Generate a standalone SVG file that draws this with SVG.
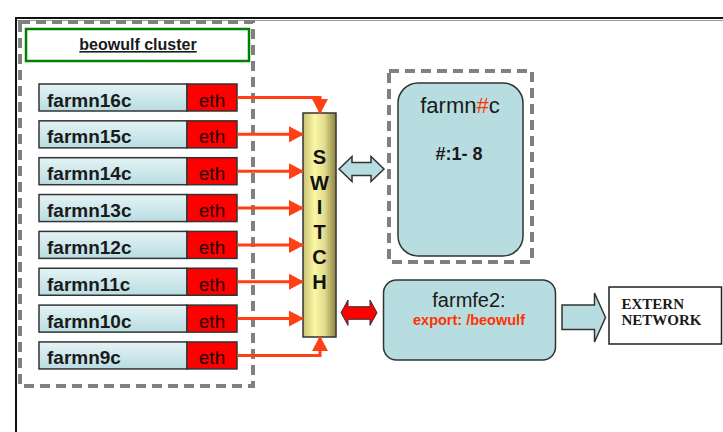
<svg xmlns="http://www.w3.org/2000/svg" width="723" height="432" viewBox="0 0 723 432">
<defs>
<linearGradient id="nodeg" x1="0" y1="0" x2="0" y2="1">
<stop offset="0" stop-color="#e4f3f5"/><stop offset="1" stop-color="#b9dde2"/>
</linearGradient>
<linearGradient id="swg" x1="0" y1="0" x2="1" y2="0">
<stop offset="0" stop-color="#c9c274"/><stop offset="0.35" stop-color="#f9f7a4"/><stop offset="0.65" stop-color="#e3dc8e"/><stop offset="1" stop-color="#8b8240"/>
</linearGradient>
<marker id="ah" viewBox="0 0 15 16" refX="14" refY="8" markerWidth="15" markerHeight="16" markerUnits="userSpaceOnUse" orient="auto">
<path d="M0,0 L15,8 L0,16 Z" fill="#ff3f14"/>
</marker>
<style>
.node{fill:url(#nodeg);stroke:#333;stroke-width:1.5}
.eth{fill:#ff0000;stroke:#333;stroke-width:1.5}
.nt{font-family:"Liberation Sans",Arial,sans-serif;font-weight:bold;font-size:19px;fill:#1a1a1a}
.et{font-family:"Liberation Sans",Arial,sans-serif;font-size:19px;fill:#2a0000;text-anchor:middle}
.dash{fill:none;stroke:#808080;stroke-width:4;stroke-dasharray:10 6}
.wire{fill:none;stroke:#ff3f14;stroke-width:3;marker-end:url(#ah)}
.blue{fill:#b8dde0;stroke:#333;stroke-width:1.5}
.sw{font-family:"Liberation Sans",Arial,sans-serif;font-weight:bold;font-size:20px;fill:#111;text-anchor:middle}
</style>
</defs>
<rect width="723" height="432" fill="#fff"/>
<g id="frame">
<line x1="16" y1="18" x2="723" y2="18" stroke="#111" stroke-width="2"/>
<line x1="16" y1="20.5" x2="723" y2="20.5" stroke="#999" stroke-width="1"/>
<line x1="16" y1="17" x2="16" y2="432" stroke="#111" stroke-width="2"/>
</g>
<g id="cluster">
<rect class="dash" x="20" y="22" width="233" height="364"/>
<rect x="26" y="29" width="223" height="32" fill="#fff" stroke="#008000" stroke-width="2.5"/>
<text x="138" y="50" font-family="Liberation Sans,Arial,sans-serif" font-weight="bold" font-size="16" fill="#1a1a1a" text-anchor="middle" text-decoration="underline">beowulf cluster</text>
</g>
<g id="farmn16c"><rect class="node" x="39" y="84" width="148" height="27"/><rect class="eth" x="187" y="84" width="50" height="27"/><text class="nt" x="47" y="106.5">farmn16c</text><text class="et" x="212" y="106.5">eth</text></g>
<g id="farmn15c"><rect class="node" x="39" y="120.85" width="148" height="27"/><rect class="eth" x="187" y="120.85" width="50" height="27"/><text class="nt" x="47" y="143.35">farmn15c</text><text class="et" x="212" y="143.35">eth</text></g>
<g id="farmn14c"><rect class="node" x="39" y="157.7" width="148" height="27"/><rect class="eth" x="187" y="157.7" width="50" height="27"/><text class="nt" x="47" y="180.2">farmn14c</text><text class="et" x="212" y="180.2">eth</text></g>
<g id="farmn13c"><rect class="node" x="39" y="194.55" width="148" height="27"/><rect class="eth" x="187" y="194.55" width="50" height="27"/><text class="nt" x="47" y="217.05">farmn13c</text><text class="et" x="212" y="217.05">eth</text></g>
<g id="farmn12c"><rect class="node" x="39" y="231.4" width="148" height="27"/><rect class="eth" x="187" y="231.4" width="50" height="27"/><text class="nt" x="47" y="253.9">farmn12c</text><text class="et" x="212" y="253.9">eth</text></g>
<g id="farmn11c"><rect class="node" x="39" y="268.25" width="148" height="27"/><rect class="eth" x="187" y="268.25" width="50" height="27"/><text class="nt" x="47" y="290.75">farmn11c</text><text class="et" x="212" y="290.75">eth</text></g>
<g id="farmn10c"><rect class="node" x="39" y="305.1" width="148" height="27"/><rect class="eth" x="187" y="305.1" width="50" height="27"/><text class="nt" x="47" y="327.6">farmn10c</text><text class="et" x="212" y="327.6">eth</text></g>
<g id="farmn9c"><rect class="node" x="39" y="341.95" width="148" height="27"/><rect class="eth" x="187" y="341.95" width="50" height="27"/><text class="nt" x="47" y="364.45">farmn9c</text><text class="et" x="212" y="364.45">eth</text></g>
<g id="switch">
<rect x="303" y="113" width="33" height="224" fill="url(#swg)" stroke="#333" stroke-width="1.5"/>
<text class="sw" x="319.5" y="164">S</text>
<text class="sw" x="319.5" y="190">W</text>
<text class="sw" x="319.5" y="214">I</text>
<text class="sw" x="319.5" y="239">T</text>
<text class="sw" x="319.5" y="264">C</text>
<text class="sw" x="319.5" y="289">H</text>
</g>
<g id="farmnc">
<rect class="dash" x="389" y="71" width="143" height="191"/>
<rect class="blue" x="398" y="83" width="125" height="173" rx="20"/>
<text x="460" y="113" font-family="Liberation Sans,Arial,sans-serif" font-size="22" fill="#1a1a1a" text-anchor="middle">farmn<tspan fill="#ff3300">#</tspan>c</text>
<text x="459" y="160" font-family="Liberation Sans,Arial,sans-serif" font-weight="bold" font-size="18" fill="#1a1a1a" text-anchor="middle">#:1- 8</text>
</g>
<g id="farmfe2">
<rect class="blue" x="383.5" y="280" width="172" height="80" rx="13"/>
<text x="469" y="307" font-family="Liberation Sans,Arial,sans-serif" font-size="20" fill="#1a1a1a" text-anchor="middle">farmfe2:</text>
<text x="469" y="325" font-family="Liberation Sans,Arial,sans-serif" font-weight="bold" font-size="14.5" fill="#ff3300" text-anchor="middle">export: /beowulf</text>
</g>
<g id="extern">
<rect x="609" y="287" width="112.5" height="57" fill="#fff" stroke="#222" stroke-width="1.5"/>
<text x="621.5" y="308.5" font-family="Liberation Serif,Times New Roman,serif" font-weight="bold" font-size="15" fill="#1a1a1a">EXTERN</text>
<text x="621.5" y="325" font-family="Liberation Serif,Times New Roman,serif" font-weight="bold" font-size="15" fill="#1a1a1a">NETWORK</text>
</g>
<g id="connectors">
<path class="wire" d="M237,97.5 H320 V113"/>
<path class="wire" d="M237,134.35 H303"/>
<path class="wire" d="M237,171.2 H303"/>
<path class="wire" d="M237,208.05 H303"/>
<path class="wire" d="M237,244.9 H303"/>
<path class="wire" d="M237,281.75 H303"/>
<path class="wire" d="M237,318.6 H303"/>
<path class="wire" d="M237,355.45 H320 V337"/>
<path class="blue" d="M339,169 L352,156.5 V162.5 H371 V156.5 L384,169 L371,181.5 V175.5 H352 V181.5 Z"/>
<path d="M341,312.7 L348,300 V306.7 H370 V300 L377,312.7 L370,325.4 V319.3 H348 V325.4 Z" fill="#ff0000" stroke="#333" stroke-width="1"/>
<path class="blue" d="M562,305 H594.5 V293 L605.5,317.5 L594.5,342 V329.5 H562 Z"/>
</g>
</svg>
